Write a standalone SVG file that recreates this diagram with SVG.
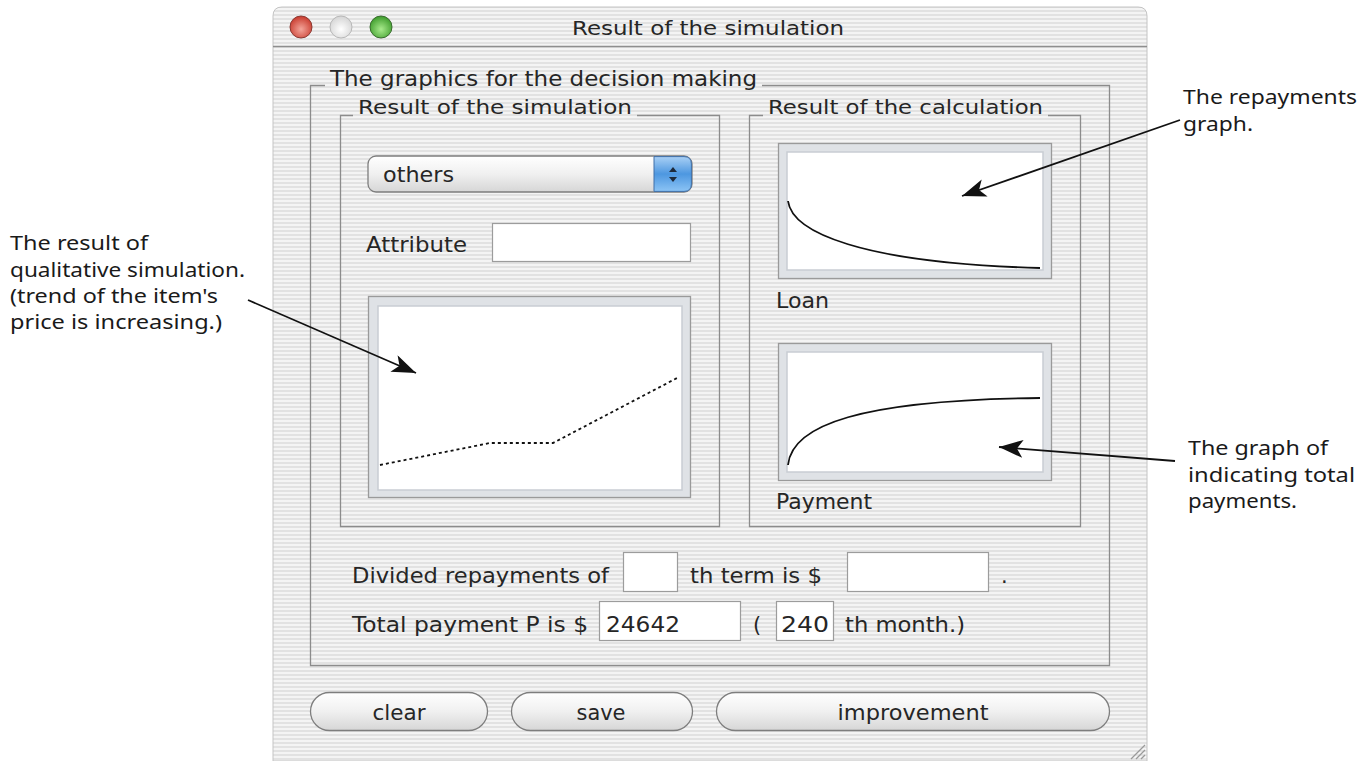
<svg xmlns="http://www.w3.org/2000/svg" width="1372" height="761" viewBox="0 0 1372 761">
<defs>
<pattern id="stripes" width="4" height="4" patternUnits="userSpaceOnUse">
<rect width="4" height="4" fill="#f4f4f4"/>
<rect y="2" width="4" height="2" fill="#e2e2e2"/>
</pattern>
<linearGradient id="btnG" x1="0" y1="0" x2="0" y2="1">
<stop offset="0" stop-color="#ffffff"/>
<stop offset="0.5" stop-color="#f0f0f0"/>
<stop offset="1" stop-color="#d6d6d6"/>
</linearGradient>
<linearGradient id="blueG" x1="0" y1="0" x2="0" y2="1">
<stop offset="0" stop-color="#a9d0f5"/>
<stop offset="0.5" stop-color="#4d97e0"/>
<stop offset="1" stop-color="#8cc4f5"/>
</linearGradient>
<radialGradient id="redG" cx="0.5" cy="0.6" r="0.6">
<stop offset="0" stop-color="#f3a59a"/>
<stop offset="1" stop-color="#c8392c"/>
</radialGradient>
<radialGradient id="greenG" cx="0.5" cy="0.6" r="0.6">
<stop offset="0" stop-color="#a8ea8c"/>
<stop offset="1" stop-color="#3c9b2a"/>
</radialGradient>
<radialGradient id="greyG" cx="0.5" cy="0.6" r="0.6">
<stop offset="0" stop-color="#ffffff"/>
<stop offset="1" stop-color="#d4d4d4"/>
</radialGradient>
<marker id="arrow" markerWidth="26" markerHeight="20" refX="24" refY="9" orient="auto" markerUnits="userSpaceOnUse">
<path d="M0,0 L24,9 L0,18 L6,9 z" fill="#111"/>
</marker>
</defs>
<style>
.ui{font-family:"DejaVu Sans","Liberation Sans",sans-serif;fill:#262626}
.ann{font-family:"Noto Sans","Liberation Sans",sans-serif;fill:#1a1a1a;font-size:20px}
.frame{fill:none;stroke:#8c8c8c;stroke-width:1.3}
.field{fill:#ffffff;stroke:#9c9c9c;stroke-width:1.2}
.gout{fill:#dfe2e6;stroke:#9a9a9a;stroke-width:1.3}
.gin{fill:#ffffff;stroke:#c9cdd3;stroke-width:1.5}
.btn{fill:url(#btnG);stroke:#7e7e7e;stroke-width:1.3}
.conn{stroke:#111;stroke-width:1.8;fill:none}
</style>

<rect width="1372" height="761" fill="#ffffff"/>

<g id="window">
<path d="M273,761 L273,16 Q273,7 282,7 L1138,7 Q1147,7 1147,16 L1147,761 Z" fill="url(#stripes)" stroke="#c4c4c4" stroke-width="1"/>
<line x1="273" y1="46.5" x2="1147" y2="46.5" stroke="#8e8e8e" stroke-width="1.5"/>
<circle cx="301" cy="27" r="11" fill="url(#redG)" stroke="#8a3a33" stroke-width="1"/>
<circle cx="341" cy="27" r="11" fill="url(#greyG)" stroke="#b8b8b8" stroke-width="1"/>
<circle cx="381" cy="27" r="11" fill="url(#greenG)" stroke="#3a6b30" stroke-width="1"/>
<text class="ui" x="572" y="35" font-size="20" textLength="272" lengthAdjust="spacingAndGlyphs">Result of the simulation</text>
<g stroke="#9a9a9a" stroke-width="1.2">
<line x1="1131" y1="759" x2="1145" y2="745"/>
<line x1="1136" y1="759" x2="1145" y2="750"/>
<line x1="1141" y1="759" x2="1145" y2="755"/>
</g>
</g>

<g id="group-decision">
<path class="frame" d="M325,85.5 L310.5,85.5 L310.5,665.5 L1109.5,665.5 L1109.5,85.5 L762,85.5"/>
<text class="ui" x="330" y="86" font-size="21" textLength="427" lengthAdjust="spacingAndGlyphs">The graphics for the decision making</text>
</g>

<g id="group-simulation">
<path class="frame" d="M353,115.5 L340.5,115.5 L340.5,526.5 L719.5,526.5 L719.5,115.5 L637,115.5"/>
<text class="ui" x="358" y="114" font-size="20" textLength="274" lengthAdjust="spacingAndGlyphs">Result of the simulation</text>
</g>

<g id="group-calculation">
<path class="frame" d="M763,115.5 L749.5,115.5 L749.5,526.5 L1080.5,526.5 L1080.5,115.5 L1048,115.5"/>
<text class="ui" x="768" y="114" font-size="20" textLength="275" lengthAdjust="spacingAndGlyphs">Result of the calculation</text>
</g>

<g id="popup-others">
<rect x="368" y="156" width="324" height="36" rx="8" fill="url(#btnG)" stroke="#7e7e7e" stroke-width="1.3"/>
<path d="M654,156.6 L684,156.6 Q691.4,156.6 691.4,164 L691.4,184 Q691.4,191.4 684,191.4 L654,191.4 Z" fill="url(#blueG)" stroke="#3f6fa8" stroke-width="1"/>
<path d="M673,167 L677,172 L669,172 Z" fill="#1e2a3a"/>
<path d="M669,177 L677,177 L673,182 Z" fill="#1e2a3a"/>
<text class="ui" x="383" y="182" font-size="22" textLength="71" lengthAdjust="spacingAndGlyphs">others</text>
</g>

<g id="attribute">
<text class="ui" x="366" y="252" font-size="21" textLength="101" lengthAdjust="spacingAndGlyphs">Attribute</text>
<rect class="field" x="492.5" y="223.5" width="198" height="38"/>
</g>

<g id="graph-simulation">
<rect class="gout" x="368.5" y="296.5" width="322" height="201"/>
<rect class="gin" x="378" y="306" width="304" height="184"/>
<polyline points="380,465 490,443 553,443 679,377" fill="none" stroke="#111" stroke-width="1.8" stroke-dasharray="3,3"/>
</g>

<g id="graph-loan">
<rect class="gout" x="778.5" y="143.5" width="273" height="135"/>
<rect class="gin" x="787" y="152" width="256" height="118"/>
<path d="M788,201 C792,232 860,263 1040,268" fill="none" stroke="#111" stroke-width="1.8"/>
<text class="ui" x="776" y="308" font-size="22" textLength="53" lengthAdjust="spacingAndGlyphs">Loan</text>
</g>

<g id="graph-payment">
<rect class="gout" x="778.5" y="343.5" width="273" height="137"/>
<rect class="gin" x="787" y="352" width="256" height="120"/>
<path d="M788,465 C792,425 860,400 1040,398" fill="none" stroke="#111" stroke-width="1.8"/>
<text class="ui" x="776" y="509" font-size="22" textLength="96" lengthAdjust="spacingAndGlyphs">Payment</text>
</g>

<g id="row-divided">
<text class="ui" x="352" y="583" font-size="21" textLength="257" lengthAdjust="spacingAndGlyphs">Divided repayments of</text>
<rect class="field" x="623.5" y="552.5" width="54" height="39"/>
<text class="ui" x="690" y="583" font-size="21" textLength="132" lengthAdjust="spacingAndGlyphs">th term is $</text>
<rect class="field" x="847.5" y="552.5" width="141" height="39"/>
<text class="ui" x="1001" y="583" font-size="21">.</text>
</g>

<g id="row-total">
<text class="ui" x="352" y="632" font-size="21" textLength="236" lengthAdjust="spacingAndGlyphs">Total payment P is $</text>
<rect class="field" x="599.5" y="601.5" width="141" height="39"/>
<text class="ui" x="606" y="632" font-size="21" textLength="74" lengthAdjust="spacingAndGlyphs">24642</text>
<text class="ui" x="753" y="632" font-size="21">(</text>
<rect class="field" x="776.5" y="601.5" width="57" height="39"/>
<text class="ui" x="781" y="632" font-size="21" textLength="48" lengthAdjust="spacingAndGlyphs">240</text>
<text class="ui" x="845" y="632" font-size="21" textLength="120" lengthAdjust="spacingAndGlyphs">th month.)</text>
</g>

<g id="btn-clear">
<rect class="btn" x="310.5" y="692.5" width="177" height="38" rx="19"/>
<text class="ui" x="399" y="720" font-size="22" text-anchor="middle" textLength="53" lengthAdjust="spacingAndGlyphs">clear</text>
</g>
<g id="btn-save">
<rect class="btn" x="511.5" y="692.5" width="181" height="38" rx="19"/>
<text class="ui" x="601" y="720" font-size="22" text-anchor="middle" textLength="49" lengthAdjust="spacingAndGlyphs">save</text>
</g>
<g id="btn-improvement">
<rect class="btn" x="716.5" y="692.5" width="393" height="38" rx="19"/>
<text class="ui" x="913" y="720" font-size="22" text-anchor="middle" textLength="151" lengthAdjust="spacingAndGlyphs">improvement</text>
</g>

<g id="note-simulation">
<text class="ann" x="10" y="250" textLength="138" lengthAdjust="spacingAndGlyphs">The result of</text>
<text class="ann" x="10" y="277" textLength="235" lengthAdjust="spacingAndGlyphs">qualitative simulation.</text>
<text class="ann" x="10" y="303" textLength="208" lengthAdjust="spacingAndGlyphs">(trend of the item's</text>
<text class="ann" x="10" y="329" textLength="212" lengthAdjust="spacingAndGlyphs">price is increasing.)</text>
</g>

<g id="note-repayments">
<text class="ann" x="1183" y="104" textLength="174" lengthAdjust="spacingAndGlyphs">The repayments</text>
<text class="ann" x="1183" y="131" textLength="70" lengthAdjust="spacingAndGlyphs">graph.</text>
</g>

<g id="note-payments">
<text class="ann" x="1188" y="455" textLength="140" lengthAdjust="spacingAndGlyphs">The graph of</text>
<text class="ann" x="1188" y="482" textLength="167" lengthAdjust="spacingAndGlyphs">indicating total</text>
<text class="ann" x="1188" y="508" textLength="109" lengthAdjust="spacingAndGlyphs">payments.</text>
</g>

<g id="connectors">
<line class="conn" x1="248" y1="300" x2="416" y2="373" marker-end="url(#arrow)"/>
<line class="conn" x1="1180" y1="120" x2="962" y2="196" marker-end="url(#arrow)"/>
<line class="conn" x1="1175" y1="461" x2="999" y2="447" marker-end="url(#arrow)"/>
</g>
</svg>
